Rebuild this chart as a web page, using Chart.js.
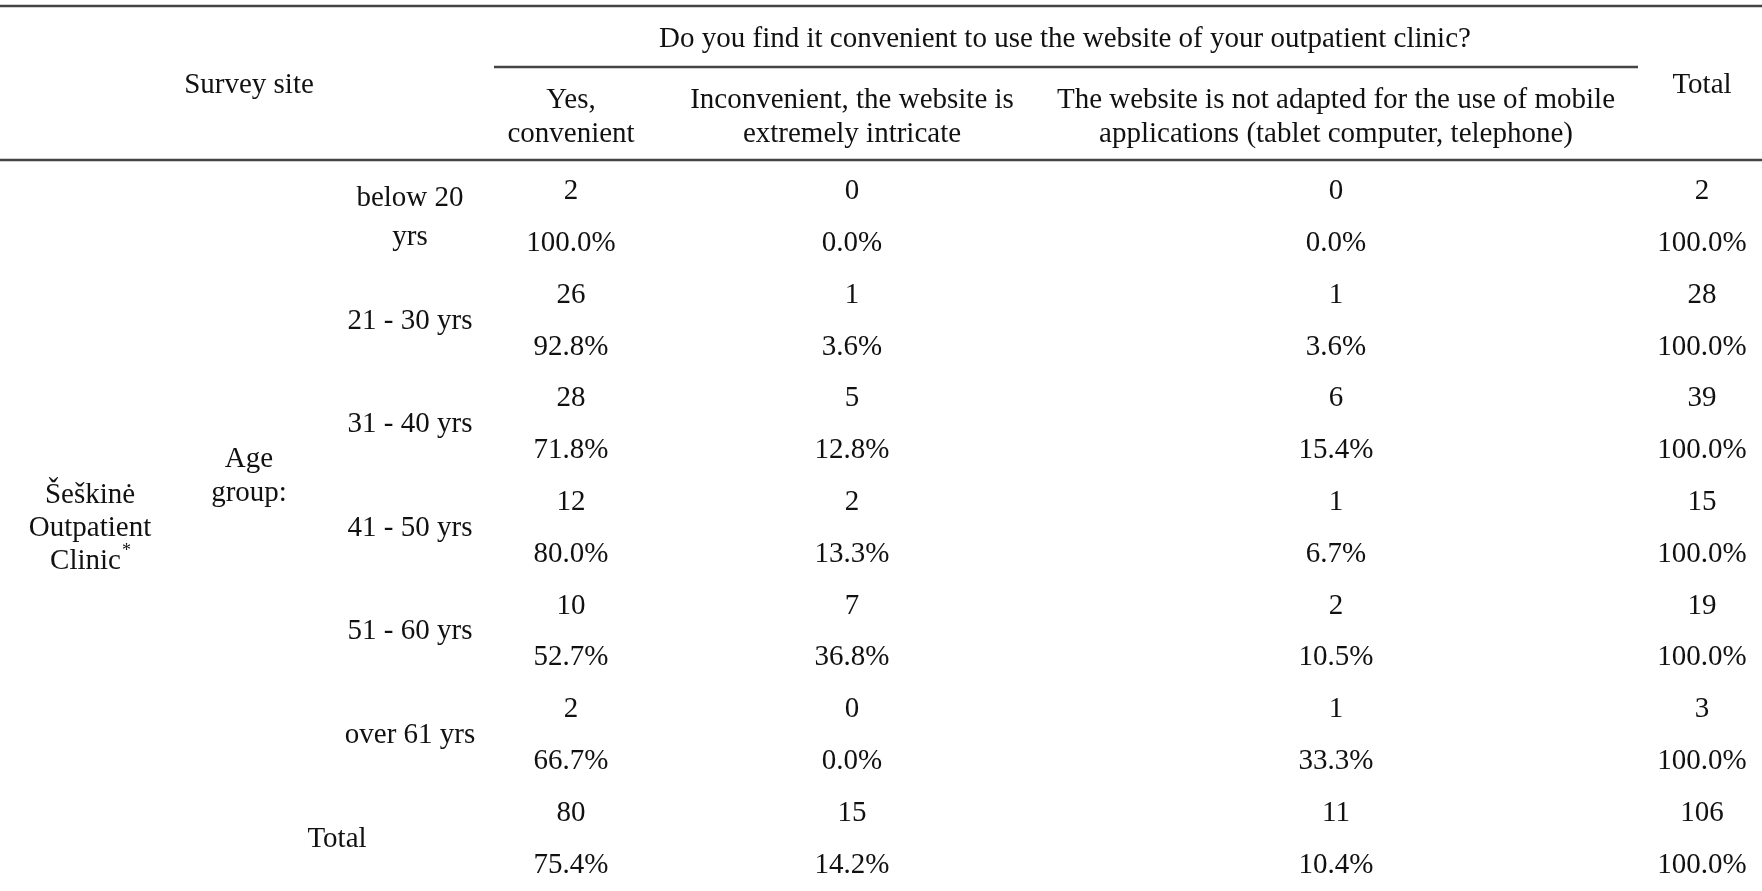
<!DOCTYPE html>
<html><head><meta charset="utf-8">
<script src="https://cdn.jsdelivr.net/npm/chart.js@4"></script>
<style>html,body{margin:0;padding:0;background:#fff}#wrap{width:1762px;height:891px;position:relative}</style>
</head><body><div id="wrap"><canvas id="c"></canvas></div>
<script>
// ---- data ----
const question = "Do you find it convenient to use the website of your outpatient clinic?";
const columnHeaders = [
  ["Yes,", "convenient"],
  ["Inconvenient, the website is", "extremely intricate"],
  ["The website is not adapted for the use of mobile", "applications (tablet computer, telephone)"]
];
const totalHeader = "Total";
const siteHeader = "Survey site";
const siteName = ["Šeškinė", "Outpatient", "Clinic"];
const ageGroupLabel = ["Age", "group:"];
const ageGroups = [["below 20", "yrs"], ["21 - 30 yrs"], ["31 - 40 yrs"], ["41 - 50 yrs"], ["51 - 60 yrs"], ["over 61 yrs"]];
const totalRowLabel = "Total";

const yesCounts    = [2, 26, 28, 12, 10, 2, 80];
const yesPct       = [100.0, 92.8, 71.8, 80.0, 52.7, 66.7, 75.4];
const inconvCounts = [0, 1, 5, 2, 7, 0, 15];
const inconvPct    = [0.0, 3.6, 12.8, 13.3, 36.8, 0.0, 14.2];
const mobileCounts = [0, 1, 6, 1, 2, 1, 11];
const mobilePct    = [0.0, 3.6, 15.4, 6.7, 10.5, 33.3, 10.4];
const totalCounts  = [2, 28, 39, 15, 19, 3, 106];
const totalPct     = [100.0, 100.0, 100.0, 100.0, 100.0, 100.0, 100.0];

// ---- layout (positions / styles) ----
const layoutCfg = {
  width: 1762,
  colCenters: [571, 852, 1336, 1702],
  ageLabelX: 410, totalLabelX: 337, ageGroupX: 249, siteX: 90, siteHeaderX: 249,
  questionX: 1065,
  yMin: -3.649, yMax: 13.552,
  topLineY: -3.533, questionY: -2.934, midLineY: -2.355, midLineX0: 494, midLineX1: 1638,
  headY: -2.046, subHeadY: -1.43, headLineGap: 34, bottomHeadLineY: -0.56,
  font: '29px "Liberation Serif", "Times New Roman", serif',
  supFont: '18px "Liberation Serif", "Times New Roman", serif',
  textDy: 2.5,
  color: '#111', lineColor: '#444', lineWidth: 2.6
};

const fmtPct = v => v.toFixed(1) + '%';
const columnsData = [[yesCounts, yesPct], [inconvCounts, inconvPct], [mobileCounts, mobilePct], [totalCounts, totalPct]];

const datasets = columnsData.map(([cnt, pct], k) => {
  const data = [], labels = [];
  cnt.forEach((c, i) => {
    data.push({x: layoutCfg.colCenters[k], y: 2 * i}); labels.push([String(c)]);
    data.push({x: layoutCfg.colCenters[k], y: 2 * i + 1}); labels.push([fmtPct(pct[i])]);
  });
  return {data, cellLabels: labels, lineGap: 34, pointRadius: 0};
});
datasets.push({
  data: ageGroups.map((_, i) => ({x: layoutCfg.ageLabelX, y: 2 * i + 0.5})).concat([{x: layoutCfg.totalLabelX, y: 2 * ageGroups.length + 0.5}]),
  cellLabels: ageGroups.concat([[totalRowLabel]]), lineGap: 39, pointRadius: 0
});
datasets.push({
  data: [{x: layoutCfg.ageGroupX, y: ageGroups.length - 0.5}],
  cellLabels: [ageGroupLabel], lineGap: 34, pointRadius: 0
});
datasets.push({
  data: [{x: layoutCfg.siteX, y: ageGroups.length + 0.5}],
  cellLabels: [siteName], lineGap: 33, pointRadius: 0, superscriptLast: '*'
});

function drawLines(ctx, lines, x, y, gap, sup) {
  const n = lines.length;
  const L = layoutCfg;
  lines.forEach((t, j) => {
    const yy = y + (j - (n - 1) / 2) * gap + L.textDy;
    if (sup && j === n - 1) {
      const w = ctx.measureText(t).width;
      ctx.save();
      ctx.font = L.supFont;
      const ws = ctx.measureText(sup).width;
      ctx.restore();
      const x0 = x - (w + ws) / 2;
      ctx.textAlign = 'left';
      ctx.fillText(t, x0, yy);
      ctx.save();
      ctx.font = L.supFont;
      ctx.fillText(sup, x0 + w + 1, yy - 10);
      ctx.restore();
      ctx.textAlign = 'center';
    } else {
      ctx.fillText(t, x, yy);
    }
  });
}

const tablePlugin = {
  id: 'tablePlugin',
  beforeDatasetsDraw(chart) {
    const {ctx, scales: {x, y}} = chart;
    const L = layoutCfg;
    ctx.save();
    ctx.strokeStyle = L.lineColor; ctx.lineWidth = L.lineWidth;
    const hline = (yv, x0, x1) => {
      const py = Math.round(y.getPixelForValue(yv));
      ctx.beginPath(); ctx.moveTo(x.getPixelForValue(x0), py); ctx.lineTo(x.getPixelForValue(x1), py); ctx.stroke();
    };
    hline(L.topLineY, 0, L.width);
    hline(L.midLineY, L.midLineX0, L.midLineX1);
    hline(L.bottomHeadLineY, 0, L.width);
    ctx.fillStyle = L.color; ctx.font = L.font; ctx.textAlign = 'center'; ctx.textBaseline = 'middle';
    ctx.fillText(question, x.getPixelForValue(L.questionX), y.getPixelForValue(L.questionY) + L.textDy);
    ctx.fillText(siteHeader, x.getPixelForValue(L.siteHeaderX), y.getPixelForValue(L.headY) + L.textDy);
    ctx.fillText(totalHeader, x.getPixelForValue(L.colCenters[3]), y.getPixelForValue(L.headY) + L.textDy);
    columnHeaders.forEach((lines, k) => {
      drawLines(ctx, lines, x.getPixelForValue(L.colCenters[k]), y.getPixelForValue(L.subHeadY), L.headLineGap);
    });
    ctx.restore();
  },
  afterDatasetsDraw(chart) {
    const {ctx} = chart;
    const L = layoutCfg;
    ctx.save();
    ctx.fillStyle = L.color; ctx.font = L.font; ctx.textAlign = 'center'; ctx.textBaseline = 'middle';
    chart.data.datasets.forEach((ds, di) => {
      const meta = chart.getDatasetMeta(di);
      meta.data.forEach((el, i) => {
        drawLines(ctx, ds.cellLabels[i], el.x, el.y, ds.lineGap, ds.superscriptLast);
      });
    });
    ctx.restore();
  }
};

new Chart(document.getElementById('c'), {
  type: 'scatter',
  data: {datasets},
  options: {
    responsive: true, maintainAspectRatio: false, animation: false,
    layout: {padding: 0},
    events: [],
    plugins: {legend: {display: false}, tooltip: {enabled: false}},
    scales: {
      x: {type: 'linear', display: false, min: 0, max: layoutCfg.width},
      y: {type: 'linear', display: false, min: layoutCfg.yMin, max: layoutCfg.yMax, reverse: true}
    }
  },
  plugins: [tablePlugin]
});
</script></body></html>
